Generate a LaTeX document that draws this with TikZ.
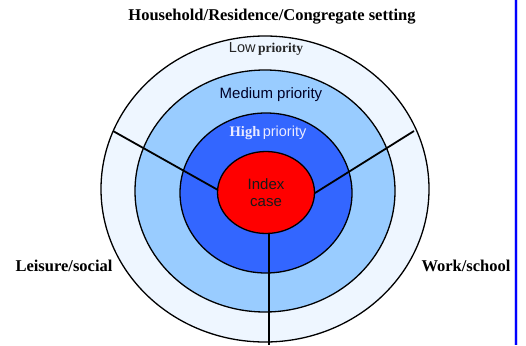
\documentclass[tikz,border=0pt]{standalone}
\usepackage{fontspec}
\setmainfont{Liberation Serif}
\setsansfont{Liberation Sans}
\usetikzlibrary{shapes.geometric}
\definecolor{ringlow}{HTML}{EEF6FF}
\definecolor{ringmed}{HTML}{99CCFF}
\definecolor{ringhigh}{HTML}{3366FF}
\definecolor{core}{HTML}{FF0000}
\definecolor{sidebar}{HTML}{0000FF}
\tikzset{
  ring/.style={draw=black, line width=1.3pt, ellipse, inner sep=0pt},
  divider/.style={draw=black, line width=1.8pt},
  setting/.style={font=\fontsize{16.5}{18}\selectfont\bfseries, text=black, inner sep=0pt},
  ringlabel/.style={inner sep=0pt, text=black!85}
}
\begin{document}
\begin{tikzpicture}[x=1pt, y=-1pt]
  \useasboundingbox (0,0) rectangle (526,345);
  \fill[white] (0,0) rectangle (526,345);
  % concentric priority rings
  \node[ring, fill=ringlow, minimum width=328pt, minimum height=306pt] (low) at (265,189) {};
  \node[ring, fill=ringmed, minimum width=260pt, minimum height=242pt] (med) at (265,191) {};
  \node[ring, fill=ringhigh, minimum width=172pt, minimum height=160pt] (high) at (266,193) {};
  % sector dividers
  \coordinate (lin) at (218,190);
  \coordinate (lout) at (113,131);
  \coordinate (rin) at (315,193);
  \coordinate (rout) at (414,131);
  \coordinate (bin) at (269,232);
  \coordinate (bout) at (269,345);
  \draw[divider] (lin) -- (lout);
  \draw[divider] (rin) -- (rout);
  \draw[divider] (bin) -- (bout);
  % index case
  \node[ring, fill=core, minimum width=97pt, minimum height=82pt, align=center,
        font=\sffamily\fontsize{15}{17}\selectfont, text=black!90] (index) at (266,192.5) {Index\\case};
  % ring labels
  \node[ringlabel] (lowlab) at (266,49) {{\sffamily\fontsize{14.5}{16}\selectfont Low} {\fontsize{13.5}{16}\selectfont\bfseries priority}};
  \node[ringlabel, font=\sffamily\fontsize{15}{17}\selectfont, text={black!85!blue}] (medlab) at (271,95) {Medium priority};
  \node[ringlabel, text=white!92!blue] (highlab) at (268,133) {{\fontsize{14.5}{16}\selectfont\bfseries High} {\sffamily\fontsize{14.5}{16}\selectfont priority}};
  % settings
  \node[setting] (home) at (272,17) {Household/Residence/Congregate setting};
  \node[setting] (leisure) at (64,266) {Leisure/social};
  \node[setting] (work) at (466,266) {Work/school};
  % side bar
  \coordinate (bartop) at (515.5,0);
  \coordinate (barbot) at (515.5,345);
  \draw[sidebar!20, line width=4pt] (bartop) -- (barbot);
  \draw[sidebar, line width=2pt] (bartop) -- (barbot);
\end{tikzpicture}
\end{document}
